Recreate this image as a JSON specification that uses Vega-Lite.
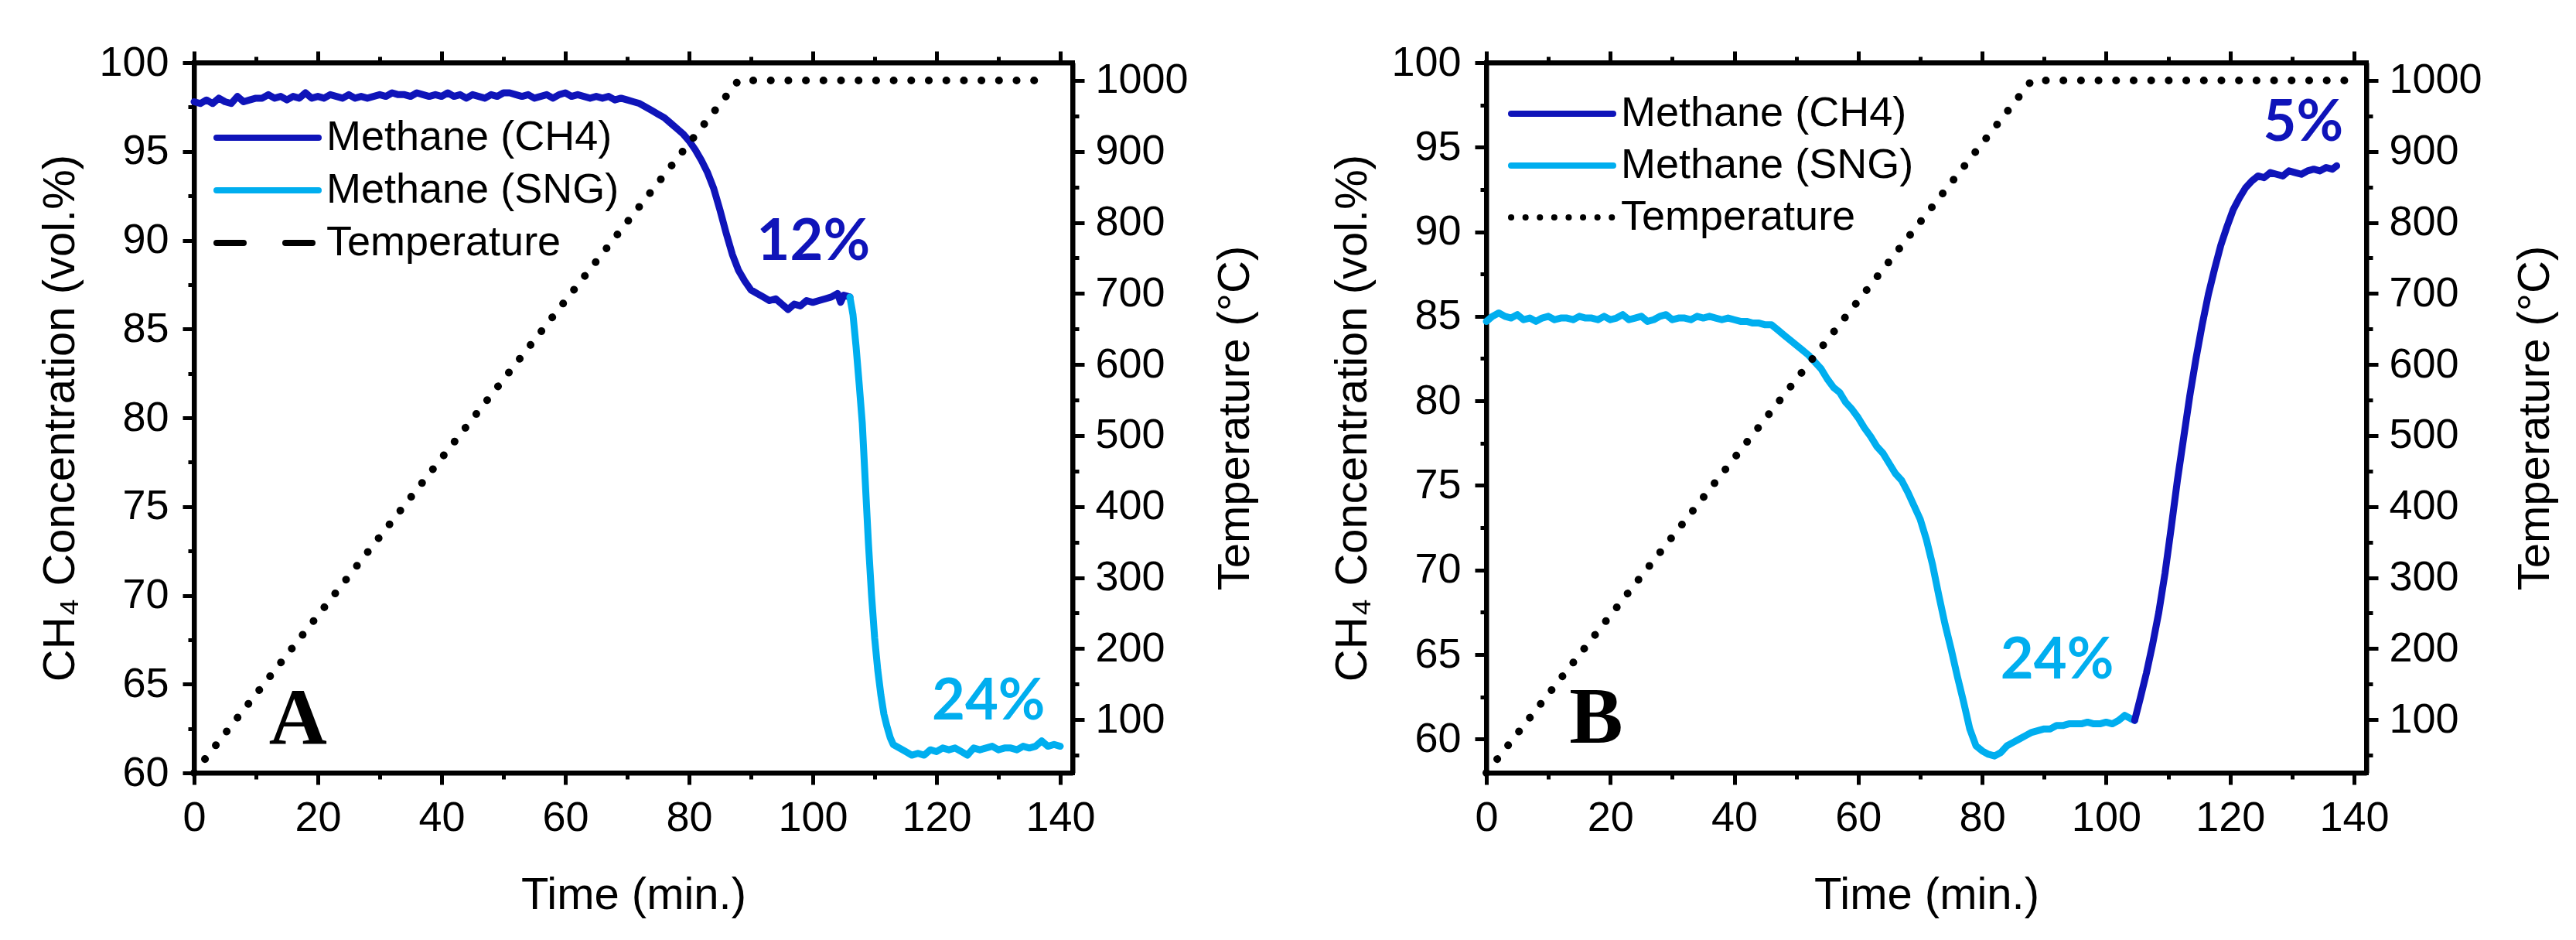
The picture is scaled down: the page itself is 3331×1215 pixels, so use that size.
{
  "$schema": "https://vega.github.io/schema/vega-lite/v6.json",
  "background": "white",
  "padding": {"left": 46, "top": 51, "right": 5, "bottom": 5},
  "bounds": "flush",
  "spacing": 535,
  "config": {
    "view": {"stroke": "black", "strokeWidth": 6},
    "axis": {
      "grid": false,
      "domainColor": "black",
      "domainWidth": 6,
      "tickColor": "black",
      "tickWidth": 5,
      "labelFont": "Liberation Sans",
      "labelFontSize": 54,
      "labelColor": "black",
      "labelFlush": false,
      "labelOverlap": false,
      "titleFont": "Liberation Sans",
      "titleFontSize": 58,
      "titleFontWeight": "normal",
      "titleColor": "black"
    },
    "legend": {
      "labelFont": "Liberation Sans",
      "labelFontSize": 54,
      "labelColor": "black",
      "labelLimit": 0,
      "padding": 0
    }
  },
  "resolve": {"scale": {"color": "independent"}, "legend": {"color": "independent"}},
  "datasets": {
    "concA": [
      {"series": "Methane (CH4)", "time": 0, "conc": 97.8}, {"series": "Methane (CH4)", "time": 1, "conc": 97.7},
      {"series": "Methane (CH4)", "time": 2, "conc": 97.9}, {"series": "Methane (CH4)", "time": 3, "conc": 97.7},
      {"series": "Methane (CH4)", "time": 4, "conc": 98.0}, {"series": "Methane (CH4)", "time": 5, "conc": 97.8},
      {"series": "Methane (CH4)", "time": 6, "conc": 97.7}, {"series": "Methane (CH4)", "time": 7, "conc": 98.1},
      {"series": "Methane (CH4)", "time": 8, "conc": 97.8}, {"series": "Methane (CH4)", "time": 9, "conc": 97.9},
      {"series": "Methane (CH4)", "time": 10, "conc": 98.0}, {"series": "Methane (CH4)", "time": 11, "conc": 98.0},
      {"series": "Methane (CH4)", "time": 12, "conc": 98.2}, {"series": "Methane (CH4)", "time": 13, "conc": 98.0},
      {"series": "Methane (CH4)", "time": 14, "conc": 98.1}, {"series": "Methane (CH4)", "time": 15, "conc": 97.9},
      {"series": "Methane (CH4)", "time": 16, "conc": 98.1}, {"series": "Methane (CH4)", "time": 17, "conc": 98.0},
      {"series": "Methane (CH4)", "time": 18, "conc": 98.3}, {"series": "Methane (CH4)", "time": 19, "conc": 98.0},
      {"series": "Methane (CH4)", "time": 20, "conc": 98.1}, {"series": "Methane (CH4)", "time": 21, "conc": 98.0},
      {"series": "Methane (CH4)", "time": 22, "conc": 98.2}, {"series": "Methane (CH4)", "time": 23, "conc": 98.1},
      {"series": "Methane (CH4)", "time": 24, "conc": 98.0}, {"series": "Methane (CH4)", "time": 25, "conc": 98.2},
      {"series": "Methane (CH4)", "time": 26, "conc": 98.0}, {"series": "Methane (CH4)", "time": 27, "conc": 98.1},
      {"series": "Methane (CH4)", "time": 28, "conc": 98.0}, {"series": "Methane (CH4)", "time": 29, "conc": 98.1},
      {"series": "Methane (CH4)", "time": 30, "conc": 98.2}, {"series": "Methane (CH4)", "time": 31, "conc": 98.1},
      {"series": "Methane (CH4)", "time": 32, "conc": 98.3}, {"series": "Methane (CH4)", "time": 33, "conc": 98.2},
      {"series": "Methane (CH4)", "time": 34, "conc": 98.2}, {"series": "Methane (CH4)", "time": 35, "conc": 98.1},
      {"series": "Methane (CH4)", "time": 36, "conc": 98.3}, {"series": "Methane (CH4)", "time": 37, "conc": 98.2},
      {"series": "Methane (CH4)", "time": 38, "conc": 98.1}, {"series": "Methane (CH4)", "time": 39, "conc": 98.2},
      {"series": "Methane (CH4)", "time": 40, "conc": 98.1}, {"series": "Methane (CH4)", "time": 41, "conc": 98.3},
      {"series": "Methane (CH4)", "time": 42, "conc": 98.1}, {"series": "Methane (CH4)", "time": 43, "conc": 98.2},
      {"series": "Methane (CH4)", "time": 44, "conc": 98.0}, {"series": "Methane (CH4)", "time": 45, "conc": 98.2},
      {"series": "Methane (CH4)", "time": 46, "conc": 98.1}, {"series": "Methane (CH4)", "time": 47, "conc": 98.0},
      {"series": "Methane (CH4)", "time": 48, "conc": 98.2}, {"series": "Methane (CH4)", "time": 49, "conc": 98.1},
      {"series": "Methane (CH4)", "time": 50, "conc": 98.3}, {"series": "Methane (CH4)", "time": 51, "conc": 98.3},
      {"series": "Methane (CH4)", "time": 52, "conc": 98.2}, {"series": "Methane (CH4)", "time": 53, "conc": 98.1},
      {"series": "Methane (CH4)", "time": 54, "conc": 98.2}, {"series": "Methane (CH4)", "time": 55, "conc": 98.0},
      {"series": "Methane (CH4)", "time": 56, "conc": 98.1}, {"series": "Methane (CH4)", "time": 57, "conc": 98.2},
      {"series": "Methane (CH4)", "time": 58, "conc": 98.0}, {"series": "Methane (CH4)", "time": 59, "conc": 98.2},
      {"series": "Methane (CH4)", "time": 60, "conc": 98.3}, {"series": "Methane (CH4)", "time": 61, "conc": 98.1},
      {"series": "Methane (CH4)", "time": 62, "conc": 98.2}, {"series": "Methane (CH4)", "time": 63, "conc": 98.1},
      {"series": "Methane (CH4)", "time": 64, "conc": 98.0}, {"series": "Methane (CH4)", "time": 65, "conc": 98.1},
      {"series": "Methane (CH4)", "time": 66, "conc": 98.0}, {"series": "Methane (CH4)", "time": 67, "conc": 98.1},
      {"series": "Methane (CH4)", "time": 68, "conc": 97.9}, {"series": "Methane (CH4)", "time": 69, "conc": 98.0},
      {"series": "Methane (CH4)", "time": 70, "conc": 97.9}, {"series": "Methane (CH4)", "time": 71, "conc": 97.8},
      {"series": "Methane (CH4)", "time": 72, "conc": 97.7}, {"series": "Methane (CH4)", "time": 73, "conc": 97.5},
      {"series": "Methane (CH4)", "time": 74, "conc": 97.3}, {"series": "Methane (CH4)", "time": 75, "conc": 97.1},
      {"series": "Methane (CH4)", "time": 76, "conc": 96.9}, {"series": "Methane (CH4)", "time": 77, "conc": 96.6},
      {"series": "Methane (CH4)", "time": 78, "conc": 96.3}, {"series": "Methane (CH4)", "time": 79, "conc": 96.0},
      {"series": "Methane (CH4)", "time": 80, "conc": 95.6}, {"series": "Methane (CH4)", "time": 81, "conc": 95.1},
      {"series": "Methane (CH4)", "time": 82, "conc": 94.5}, {"series": "Methane (CH4)", "time": 83, "conc": 93.8},
      {"series": "Methane (CH4)", "time": 84, "conc": 92.9}, {"series": "Methane (CH4)", "time": 85, "conc": 91.7},
      {"series": "Methane (CH4)", "time": 86, "conc": 90.4}, {"series": "Methane (CH4)", "time": 87, "conc": 89.2},
      {"series": "Methane (CH4)", "time": 88, "conc": 88.3}, {"series": "Methane (CH4)", "time": 89, "conc": 87.7},
      {"series": "Methane (CH4)", "time": 90, "conc": 87.2}, {"series": "Methane (CH4)", "time": 91, "conc": 87.0},
      {"series": "Methane (CH4)", "time": 92, "conc": 86.8}, {"series": "Methane (CH4)", "time": 93, "conc": 86.6},
      {"series": "Methane (CH4)", "time": 94, "conc": 86.7}, {"series": "Methane (CH4)", "time": 95, "conc": 86.4},
      {"series": "Methane (CH4)", "time": 96, "conc": 86.1}, {"series": "Methane (CH4)", "time": 97, "conc": 86.4},
      {"series": "Methane (CH4)", "time": 98, "conc": 86.3}, {"series": "Methane (CH4)", "time": 99, "conc": 86.6},
      {"series": "Methane (CH4)", "time": 100, "conc": 86.5}, {"series": "Methane (CH4)", "time": 101, "conc": 86.6},
      {"series": "Methane (CH4)", "time": 102, "conc": 86.7}, {"series": "Methane (CH4)", "time": 103, "conc": 86.8},
      {"series": "Methane (CH4)", "time": 104, "conc": 87.0}, {"series": "Methane (CH4)", "time": 104.5, "conc": 86.5},
      {"series": "Methane (CH4)", "time": 105, "conc": 86.9}, {"series": "Methane (CH4)", "time": 106, "conc": 86.8},
      {"series": "Methane (SNG)", "time": 106, "conc": 86.8}, {"series": "Methane (SNG)", "time": 106.5, "conc": 85.8},
      {"series": "Methane (SNG)", "time": 107, "conc": 84.0}, {"series": "Methane (SNG)", "time": 107.5, "conc": 81.9},
      {"series": "Methane (SNG)", "time": 108, "conc": 79.7}, {"series": "Methane (SNG)", "time": 108.5, "conc": 76.3},
      {"series": "Methane (SNG)", "time": 109, "conc": 72.9}, {"series": "Methane (SNG)", "time": 109.5, "conc": 70.0},
      {"series": "Methane (SNG)", "time": 110, "conc": 67.6}, {"series": "Methane (SNG)", "time": 110.5, "conc": 65.8},
      {"series": "Methane (SNG)", "time": 111, "conc": 64.4}, {"series": "Methane (SNG)", "time": 111.5, "conc": 63.3},
      {"series": "Methane (SNG)", "time": 112, "conc": 62.6}, {"series": "Methane (SNG)", "time": 112.5, "conc": 62.0},
      {"series": "Methane (SNG)", "time": 113, "conc": 61.6}, {"series": "Methane (SNG)", "time": 114, "conc": 61.4},
      {"series": "Methane (SNG)", "time": 115, "conc": 61.2}, {"series": "Methane (SNG)", "time": 116, "conc": 61.0},
      {"series": "Methane (SNG)", "time": 117, "conc": 61.1}, {"series": "Methane (SNG)", "time": 118, "conc": 61.0},
      {"series": "Methane (SNG)", "time": 119, "conc": 61.3}, {"series": "Methane (SNG)", "time": 120, "conc": 61.2},
      {"series": "Methane (SNG)", "time": 121, "conc": 61.4}, {"series": "Methane (SNG)", "time": 122, "conc": 61.3},
      {"series": "Methane (SNG)", "time": 123, "conc": 61.4}, {"series": "Methane (SNG)", "time": 124, "conc": 61.2},
      {"series": "Methane (SNG)", "time": 125, "conc": 61.0}, {"series": "Methane (SNG)", "time": 126, "conc": 61.4},
      {"series": "Methane (SNG)", "time": 127, "conc": 61.3}, {"series": "Methane (SNG)", "time": 128, "conc": 61.4},
      {"series": "Methane (SNG)", "time": 129, "conc": 61.5}, {"series": "Methane (SNG)", "time": 130, "conc": 61.3},
      {"series": "Methane (SNG)", "time": 131, "conc": 61.4}, {"series": "Methane (SNG)", "time": 132, "conc": 61.4},
      {"series": "Methane (SNG)", "time": 133, "conc": 61.3}, {"series": "Methane (SNG)", "time": 134, "conc": 61.5},
      {"series": "Methane (SNG)", "time": 135, "conc": 61.4}, {"series": "Methane (SNG)", "time": 136, "conc": 61.5},
      {"series": "Methane (SNG)", "time": 137, "conc": 61.8}, {"series": "Methane (SNG)", "time": 138, "conc": 61.5},
      {"series": "Methane (SNG)", "time": 139, "conc": 61.6}, {"series": "Methane (SNG)", "time": 140, "conc": 61.5}
    ],
    "concB": [
      {"series": "Methane (SNG)", "time": 0, "conc": 84.7}, {"series": "Methane (SNG)", "time": 1, "conc": 85.0},
      {"series": "Methane (SNG)", "time": 2, "conc": 85.2}, {"series": "Methane (SNG)", "time": 3, "conc": 85.0},
      {"series": "Methane (SNG)", "time": 4, "conc": 84.9}, {"series": "Methane (SNG)", "time": 5, "conc": 85.1},
      {"series": "Methane (SNG)", "time": 6, "conc": 84.8}, {"series": "Methane (SNG)", "time": 7, "conc": 84.9},
      {"series": "Methane (SNG)", "time": 8, "conc": 84.7}, {"series": "Methane (SNG)", "time": 9, "conc": 84.9},
      {"series": "Methane (SNG)", "time": 10, "conc": 85.0}, {"series": "Methane (SNG)", "time": 11, "conc": 84.8},
      {"series": "Methane (SNG)", "time": 12, "conc": 84.9}, {"series": "Methane (SNG)", "time": 13, "conc": 84.9},
      {"series": "Methane (SNG)", "time": 14, "conc": 84.8}, {"series": "Methane (SNG)", "time": 15, "conc": 85.0},
      {"series": "Methane (SNG)", "time": 16, "conc": 84.9}, {"series": "Methane (SNG)", "time": 17, "conc": 84.9},
      {"series": "Methane (SNG)", "time": 18, "conc": 84.8}, {"series": "Methane (SNG)", "time": 19, "conc": 85.0},
      {"series": "Methane (SNG)", "time": 20, "conc": 84.8}, {"series": "Methane (SNG)", "time": 21, "conc": 84.9},
      {"series": "Methane (SNG)", "time": 22, "conc": 85.1}, {"series": "Methane (SNG)", "time": 23, "conc": 84.8},
      {"series": "Methane (SNG)", "time": 24, "conc": 84.9}, {"series": "Methane (SNG)", "time": 25, "conc": 85.0},
      {"series": "Methane (SNG)", "time": 26, "conc": 84.7}, {"series": "Methane (SNG)", "time": 27, "conc": 84.8},
      {"series": "Methane (SNG)", "time": 28, "conc": 85.0}, {"series": "Methane (SNG)", "time": 29, "conc": 85.1},
      {"series": "Methane (SNG)", "time": 30, "conc": 84.8}, {"series": "Methane (SNG)", "time": 31, "conc": 84.9},
      {"series": "Methane (SNG)", "time": 32, "conc": 84.9}, {"series": "Methane (SNG)", "time": 33, "conc": 84.8},
      {"series": "Methane (SNG)", "time": 34, "conc": 85.0}, {"series": "Methane (SNG)", "time": 35, "conc": 84.9},
      {"series": "Methane (SNG)", "time": 36, "conc": 85.0}, {"series": "Methane (SNG)", "time": 37, "conc": 84.9},
      {"series": "Methane (SNG)", "time": 38, "conc": 84.8}, {"series": "Methane (SNG)", "time": 39, "conc": 84.9},
      {"series": "Methane (SNG)", "time": 40, "conc": 84.8}, {"series": "Methane (SNG)", "time": 41, "conc": 84.7},
      {"series": "Methane (SNG)", "time": 42, "conc": 84.7}, {"series": "Methane (SNG)", "time": 43, "conc": 84.6},
      {"series": "Methane (SNG)", "time": 44, "conc": 84.6}, {"series": "Methane (SNG)", "time": 45, "conc": 84.5},
      {"series": "Methane (SNG)", "time": 46, "conc": 84.5}, {"series": "Methane (SNG)", "time": 47, "conc": 84.2},
      {"series": "Methane (SNG)", "time": 48, "conc": 83.9}, {"series": "Methane (SNG)", "time": 49, "conc": 83.6},
      {"series": "Methane (SNG)", "time": 50, "conc": 83.3}, {"series": "Methane (SNG)", "time": 51, "conc": 83.0},
      {"series": "Methane (SNG)", "time": 52, "conc": 82.7}, {"series": "Methane (SNG)", "time": 53, "conc": 82.3},
      {"series": "Methane (SNG)", "time": 54, "conc": 81.9}, {"series": "Methane (SNG)", "time": 55, "conc": 81.3},
      {"series": "Methane (SNG)", "time": 56, "conc": 80.8}, {"series": "Methane (SNG)", "time": 57, "conc": 80.5},
      {"series": "Methane (SNG)", "time": 58, "conc": 79.9}, {"series": "Methane (SNG)", "time": 59, "conc": 79.5},
      {"series": "Methane (SNG)", "time": 60, "conc": 79.0}, {"series": "Methane (SNG)", "time": 61, "conc": 78.4},
      {"series": "Methane (SNG)", "time": 62, "conc": 77.9}, {"series": "Methane (SNG)", "time": 63, "conc": 77.3},
      {"series": "Methane (SNG)", "time": 64, "conc": 76.9}, {"series": "Methane (SNG)", "time": 65, "conc": 76.3},
      {"series": "Methane (SNG)", "time": 66, "conc": 75.7}, {"series": "Methane (SNG)", "time": 67, "conc": 75.3},
      {"series": "Methane (SNG)", "time": 68, "conc": 74.6}, {"series": "Methane (SNG)", "time": 69, "conc": 73.8},
      {"series": "Methane (SNG)", "time": 70, "conc": 73.0}, {"series": "Methane (SNG)", "time": 71, "conc": 71.8},
      {"series": "Methane (SNG)", "time": 72, "conc": 70.3}, {"series": "Methane (SNG)", "time": 73, "conc": 68.5},
      {"series": "Methane (SNG)", "time": 74, "conc": 66.8}, {"series": "Methane (SNG)", "time": 75, "conc": 65.3},
      {"series": "Methane (SNG)", "time": 76, "conc": 63.7}, {"series": "Methane (SNG)", "time": 77, "conc": 62.2},
      {"series": "Methane (SNG)", "time": 78, "conc": 60.6}, {"series": "Methane (SNG)", "time": 79, "conc": 59.6},
      {"series": "Methane (SNG)", "time": 80, "conc": 59.3}, {"series": "Methane (SNG)", "time": 81, "conc": 59.1},
      {"series": "Methane (SNG)", "time": 82, "conc": 59.0}, {"series": "Methane (SNG)", "time": 83, "conc": 59.2},
      {"series": "Methane (SNG)", "time": 84, "conc": 59.6}, {"series": "Methane (SNG)", "time": 85, "conc": 59.8},
      {"series": "Methane (SNG)", "time": 86, "conc": 60.0}, {"series": "Methane (SNG)", "time": 87, "conc": 60.2},
      {"series": "Methane (SNG)", "time": 88, "conc": 60.4}, {"series": "Methane (SNG)", "time": 89, "conc": 60.5},
      {"series": "Methane (SNG)", "time": 90, "conc": 60.6}, {"series": "Methane (SNG)", "time": 91, "conc": 60.6},
      {"series": "Methane (SNG)", "time": 92, "conc": 60.8}, {"series": "Methane (SNG)", "time": 93, "conc": 60.8},
      {"series": "Methane (SNG)", "time": 94, "conc": 60.9}, {"series": "Methane (SNG)", "time": 95, "conc": 60.9},
      {"series": "Methane (SNG)", "time": 96, "conc": 60.9}, {"series": "Methane (SNG)", "time": 97, "conc": 61.0},
      {"series": "Methane (SNG)", "time": 98, "conc": 60.9}, {"series": "Methane (SNG)", "time": 99, "conc": 60.9},
      {"series": "Methane (SNG)", "time": 100, "conc": 61.0}, {"series": "Methane (SNG)", "time": 101, "conc": 60.9},
      {"series": "Methane (SNG)", "time": 102, "conc": 61.1}, {"series": "Methane (SNG)", "time": 103, "conc": 61.4},
      {"series": "Methane (SNG)", "time": 104, "conc": 61.2}, {"series": "Methane (SNG)", "time": 104.6, "conc": 61.1},
      {"series": "Methane (CH4)", "time": 104.6, "conc": 61.1}, {"series": "Methane (CH4)", "time": 105.5, "conc": 62.4},
      {"series": "Methane (CH4)", "time": 106.5, "conc": 63.9}, {"series": "Methane (CH4)", "time": 107.5, "conc": 65.6},
      {"series": "Methane (CH4)", "time": 108.5, "conc": 67.5}, {"series": "Methane (CH4)", "time": 109.5, "conc": 69.8},
      {"series": "Methane (CH4)", "time": 110.5, "conc": 72.5}, {"series": "Methane (CH4)", "time": 111.5, "conc": 75.3},
      {"series": "Methane (CH4)", "time": 112.5, "conc": 77.8}, {"series": "Methane (CH4)", "time": 113.5, "conc": 80.3},
      {"series": "Methane (CH4)", "time": 114.5, "conc": 82.5}, {"series": "Methane (CH4)", "time": 115.5, "conc": 84.5},
      {"series": "Methane (CH4)", "time": 116.5, "conc": 86.3}, {"series": "Methane (CH4)", "time": 117.5, "conc": 87.8},
      {"series": "Methane (CH4)", "time": 118.5, "conc": 89.2}, {"series": "Methane (CH4)", "time": 119.5, "conc": 90.3},
      {"series": "Methane (CH4)", "time": 120.5, "conc": 91.3}, {"series": "Methane (CH4)", "time": 121.5, "conc": 92.0},
      {"series": "Methane (CH4)", "time": 122.5, "conc": 92.6}, {"series": "Methane (CH4)", "time": 123.5, "conc": 93.0},
      {"series": "Methane (CH4)", "time": 124.5, "conc": 93.3}, {"series": "Methane (CH4)", "time": 125.5, "conc": 93.2},
      {"series": "Methane (CH4)", "time": 126.5, "conc": 93.5}, {"series": "Methane (CH4)", "time": 127.5, "conc": 93.4},
      {"series": "Methane (CH4)", "time": 128.5, "conc": 93.3}, {"series": "Methane (CH4)", "time": 129.5, "conc": 93.6},
      {"series": "Methane (CH4)", "time": 130.5, "conc": 93.5}, {"series": "Methane (CH4)", "time": 131.5, "conc": 93.4},
      {"series": "Methane (CH4)", "time": 132.5, "conc": 93.6}, {"series": "Methane (CH4)", "time": 133.5, "conc": 93.7},
      {"series": "Methane (CH4)", "time": 134.5, "conc": 93.6}, {"series": "Methane (CH4)", "time": 135.5, "conc": 93.8},
      {"series": "Methane (CH4)", "time": 136.5, "conc": 93.7}, {"series": "Methane (CH4)", "time": 137.2, "conc": 93.9}
    ],
    "tempA": [
      {"series": "Temperature", "time": 0, "temp": 25},
      {"series": "Temperature", "time": 88, "temp": 1000},
      {"series": "Temperature", "time": 138.5, "temp": 1000}
    ],
    "tempB": [
      {"series": "Temperature", "time": 0, "temp": 25},
      {"series": "Temperature", "time": 88, "temp": 1000},
      {"series": "Temperature", "time": 138.5, "temp": 1000}
    ],
    "notesA": [
      {"series": "Methane (CH4)", "time": 100.1, "conc": 88.9, "label": "12%"},
      {"series": "Methane (SNG)", "time": 128.4, "conc": 63.0, "label": "24%"}
    ],
    "notesB": [
      {"series": "Methane (SNG)", "time": 92.1, "conc": 63.6, "label": "24%"},
      {"series": "Methane (CH4)", "time": 131.8, "conc": 95.4, "label": "5%"}
    ]
  },
  "hconcat": [
    {
      "width": 1136,
      "height": 918,
      "layer": [
        {
          "layer": [
            {
              "data": {"name": "concA"},
              "mark": {"type": "line", "strokeWidth": 9, "strokeJoin": "round", "strokeCap": "round"},
              "encoding": {
                "x": {
                  "field": "time", "type": "quantitative",
                  "scale": {"domain": [0, 142], "nice": false, "zero": false},
                  "axis": {
                    "title": "Time (min.)",
                    "values": [0, 10, 20, 30, 40, 50, 60, 70, 80, 90, 100, 110, 120, 130, 140],
                    "format": ".0f",
                    "labelExpr": "datum.value % 20 === 0 ? datum.label : ''",
                    "tickSize": {"condition": {"test": "datum.value % 20 === 0", "value": 15}, "value": 8},
                    "labelPadding": 16,
                    "titlePadding": 44
                  }
                },
                "y": {
                  "field": "conc", "type": "quantitative",
                  "scale": {"domain": [60, 100], "nice": false, "zero": false},
                  "axis": {
                    "title": "CH₄ Concentration (vol.%)",
                    "values": [60, 62.5, 65, 67.5, 70, 72.5, 75, 77.5, 80, 82.5, 85, 87.5, 90, 92.5, 95, 97.5, 100],
                    "format": ".0f",
                    "labelExpr": "datum.value % 5 === 0 ? datum.label : ''",
                    "tickSize": {"condition": {"test": "datum.value % 5 === 0", "value": 15}, "value": 8},
                    "labelPadding": 18,
                    "titlePadding": 20
                  }
                },
                "color": {
                  "field": "series", "type": "nominal",
                  "scale": {"domain": ["Methane (CH4)", "Methane (SNG)", "Temperature"], "range": ["#0F14B9", "#00AEEF", "black"]},
                  "legend": {
                    "title": null, "orient": "none", "legendX": 68, "legendY": 70,
                    "symbolType": "M-3.3,0H3.3", "symbolSize": 1600, "symbolStrokeWidth": 8,
                    "labelOffset": 49, "rowPadding": 14,
                    "encode": {"symbols": {"update": {
                      "strokeDash": {"signal": "datum.value === 'Temperature' ? [35, 54] : [1, 0]"},
                      "strokeCap": {"value": "round"}
                    }}}
                  }
                }
              }
            },
            {
              "data": {"name": "notesA"},
              "mark": {"type": "text", "font": "Lato", "fontWeight": "bold", "fontSize": 74, "align": "center", "baseline": "alphabetic"},
              "encoding": {
                "x": {"field": "time", "type": "quantitative"},
                "y": {"field": "conc", "type": "quantitative"},
                "text": {"field": "label"},
                "color": {"field": "series", "type": "nominal"}
              }
            },
            {
              "data": {"values": [{"time": 16.8, "conc": 61.6, "label": "A"}]},
              "mark": {"type": "text", "font": "Liberation Serif", "fontWeight": "bold", "fontSize": 104, "align": "center", "baseline": "alphabetic", "fill": "black"},
              "encoding": {
                "x": {"field": "time", "type": "quantitative"},
                "y": {"field": "conc", "type": "quantitative"},
                "text": {"field": "label"}
              }
            }
          ]
        },
        {
          "data": {"name": "tempA"},
          "mark": {"type": "line", "strokeWidth": 10, "strokeCap": "round", "strokeDash": [0.1, 22.6]},
          "encoding": {
            "x": {
              "field": "time", "type": "quantitative",
              "scale": {"domain": [0, 142], "nice": false, "zero": false},
              "axis": {
                "orient": "top", "title": null, "labels": false,
                "values": [0, 10, 20, 30, 40, 50, 60, 70, 80, 90, 100, 110, 120, 130, 140],
                "tickSize": {"condition": {"test": "datum.value % 20 === 0", "value": 15}, "value": 8}
              }
            },
            "y": {
              "field": "temp", "type": "quantitative",
              "scale": {"domain": [25, 1025], "nice": false, "zero": false},
              "axis": {
                "orient": "right",
                "title": "Temperature (°C)",
                "titleAngle": 270,
                "titleBaseline": "top",
                "values": [50, 100, 150, 200, 250, 300, 350, 400, 450, 500, 550, 600, 650, 700, 750, 800, 850, 900, 950, 1000],
                "format": ".0f",
                "labelExpr": "datum.value % 100 === 0 ? datum.label : ''",
                "tickSize": {"condition": {"test": "datum.value % 100 === 0", "value": 15}, "value": 8},
                "labelPadding": 14,
                "titlePadding": 32
              }
            },
            "color": {
              "field": "series", "type": "nominal",
              "legend": {
                "title": null, "orient": "none", "legendX": 68, "legendY": 70,
                "symbolType": "M-3.3,0H3.3", "symbolSize": 1600, "symbolStrokeWidth": 8,
                "labelOffset": 49, "rowPadding": 14,
                "encode": {"symbols": {"update": {
                  "strokeDash": {"signal": "datum.value === 'Temperature' ? [35, 54] : [1, 0]"},
                  "strokeCap": {"value": "round"}
                }}}
              }
            }
          }
        }
      ],
      "resolve": {"scale": {"y": "independent"}, "axis": {"x": "independent", "y": "independent"}}
    },
    {
      "width": 1138,
      "height": 918,
      "layer": [
        {
          "layer": [
            {
              "data": {"name": "concB"},
              "mark": {"type": "line", "strokeWidth": 9, "strokeJoin": "round", "strokeCap": "round"},
              "encoding": {
                "x": {
                  "field": "time", "type": "quantitative",
                  "scale": {"domain": [0, 142], "nice": false, "zero": false},
                  "axis": {
                    "title": "Time (min.)",
                    "values": [0, 10, 20, 30, 40, 50, 60, 70, 80, 90, 100, 110, 120, 130, 140],
                    "format": ".0f",
                    "labelExpr": "datum.value % 20 === 0 ? datum.label : ''",
                    "tickSize": {"condition": {"test": "datum.value % 20 === 0", "value": 15}, "value": 8},
                    "labelPadding": 16,
                    "titlePadding": 44
                  }
                },
                "y": {
                  "field": "conc", "type": "quantitative",
                  "scale": {"domain": [58, 100], "nice": false, "zero": false},
                  "axis": {
                    "title": "CH₄ Concentration (vol.%)",
                    "values": [60, 62.5, 65, 67.5, 70, 72.5, 75, 77.5, 80, 82.5, 85, 87.5, 90, 92.5, 95, 97.5, 100],
                    "format": ".0f",
                    "labelExpr": "datum.value % 5 === 0 ? datum.label : ''",
                    "tickSize": {"condition": {"test": "datum.value % 5 === 0", "value": 15}, "value": 8},
                    "labelPadding": 18,
                    "titlePadding": 20
                  }
                },
                "color": {
                  "field": "series", "type": "nominal",
                  "scale": {"domain": ["Methane (CH4)", "Methane (SNG)", "Temperature"], "range": ["#0F14B9", "#00AEEF", "black"]},
                  "legend": {
                    "title": null, "orient": "none", "legendX": 71, "legendY": 39,
                    "symbolType": "M-3.3,0H3.3", "symbolSize": 1600, "symbolStrokeWidth": 8,
                    "labelOffset": 49, "rowPadding": 13,
                    "encode": {"symbols": {"update": {
                      "strokeDash": {"signal": "datum.value === 'Temperature' ? [0.1, 18.5] : [1, 0]"},
                      "strokeCap": {"value": "round"}
                    }}}
                  }
                }
              }
            },
            {
              "data": {"name": "notesB"},
              "mark": {"type": "text", "font": "Lato", "fontWeight": "bold", "fontSize": 74, "align": "center", "baseline": "alphabetic"},
              "encoding": {
                "x": {"field": "time", "type": "quantitative"},
                "y": {"field": "conc", "type": "quantitative"},
                "text": {"field": "label"},
                "color": {"field": "series", "type": "nominal"}
              }
            },
            {
              "data": {"values": [{"time": 17.7, "conc": 59.8, "label": "B"}]},
              "mark": {"type": "text", "font": "Liberation Serif", "fontWeight": "bold", "fontSize": 104, "align": "center", "baseline": "alphabetic", "fill": "black"},
              "encoding": {
                "x": {"field": "time", "type": "quantitative"},
                "y": {"field": "conc", "type": "quantitative"},
                "text": {"field": "label"}
              }
            }
          ]
        },
        {
          "data": {"name": "tempB"},
          "mark": {"type": "line", "strokeWidth": 10, "strokeCap": "round", "strokeDash": [0.1, 22.6]},
          "encoding": {
            "x": {
              "field": "time", "type": "quantitative",
              "scale": {"domain": [0, 142], "nice": false, "zero": false},
              "axis": {
                "orient": "top", "title": null, "labels": false,
                "values": [0, 10, 20, 30, 40, 50, 60, 70, 80, 90, 100, 110, 120, 130, 140],
                "tickSize": {"condition": {"test": "datum.value % 20 === 0", "value": 15}, "value": 8}
              }
            },
            "y": {
              "field": "temp", "type": "quantitative",
              "scale": {"domain": [25, 1025], "nice": false, "zero": false},
              "axis": {
                "orient": "right",
                "title": "Temperature (°C)",
                "titleAngle": 270,
                "titleBaseline": "top",
                "values": [50, 100, 150, 200, 250, 300, 350, 400, 450, 500, 550, 600, 650, 700, 750, 800, 850, 900, 950, 1000],
                "format": ".0f",
                "labelExpr": "datum.value % 100 === 0 ? datum.label : ''",
                "tickSize": {"condition": {"test": "datum.value % 100 === 0", "value": 15}, "value": 8},
                "labelPadding": 14,
                "titlePadding": 40
              }
            },
            "color": {
              "field": "series", "type": "nominal",
              "legend": {
                "title": null, "orient": "none", "legendX": 71, "legendY": 39,
                "symbolType": "M-3.3,0H3.3", "symbolSize": 1600, "symbolStrokeWidth": 8,
                "labelOffset": 49, "rowPadding": 13,
                "encode": {"symbols": {"update": {
                  "strokeDash": {"signal": "datum.value === 'Temperature' ? [0.1, 18.5] : [1, 0]"},
                  "strokeCap": {"value": "round"}
                }}}
              }
            }
          }
        }
      ],
      "resolve": {"scale": {"y": "independent"}, "axis": {"x": "independent", "y": "independent"}}
    }
  ]
}
